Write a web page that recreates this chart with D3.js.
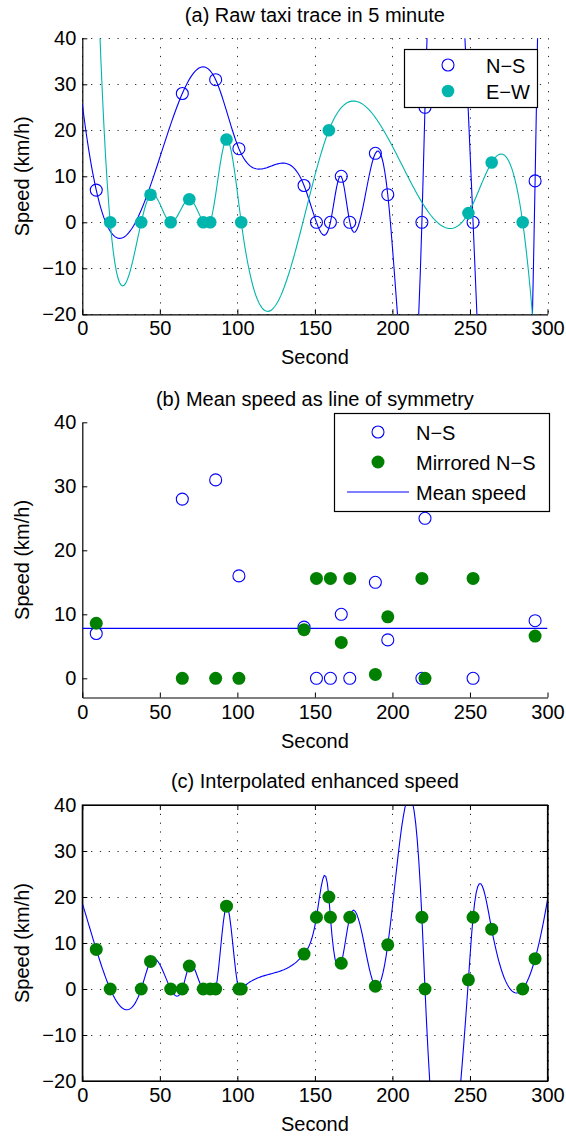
<!DOCTYPE html>
<html><head><meta charset="utf-8">
<script src="https://cdn.jsdelivr.net/npm/d3@7"></script>
<style>
body{margin:0;background:#fff;}
svg{display:block;font-family:"Liberation Sans",Arial,Helvetica,sans-serif;}
</style></head><body>
<svg id="chart" width="566" height="1138"></svg>
<script>
// ---------- data ----------
const xTicks = [0, 50, 100, 150, 200, 250, 300];
const yTicksAC = [-20, -10, 0, 10, 20, 30, 40];
const yTicksB = [0, 10, 20, 30, 40];

const nsSeconds = [9, 64.5, 86, 101, 143, 151, 160, 167, 172.5, 189, 197, 219, 221, 252, 292];
const nsSpeed   = [7, 28, 31, 16, 8, 0, 0, 10, 0, 15, 6, 0, 25, 0, 9];

const ewSeconds = [18, 38, 44, 57, 69, 78, 82.5, 93, 102.5, 159, 249, 264, 284];
const ewSpeed   = [0, 0, 6, 0, 5, 0, 0, 18, 0, 20, 2, 13, 0];

const meanSpeed = 7.8;
const mirroredSpeed = [8.6, 0, 0, 0, 7.6, 15.6, 15.6, 5.6, 15.6, 0.6, 9.6, 15.6, 0, 15.6, 6.6];

const enhSeconds = [9, 18, 38, 44, 57, 64.5, 69, 78, 82.5, 86, 93, 101, 102.5, 143, 151, 159, 160, 167, 172.5, 189, 197, 219, 221, 249, 252, 264, 284, 292];
const enhSpeed   = [8.6, 0, 0, 6, 0, 0, 5, 0, 0, 0, 18, 0, 0, 7.6, 15.6, 20, 15.6, 5.6, 15.6, 0.6, 9.6, 15.6, 0, 2, 15.6, 13, 0, 6.6];

const titles = ["(a) Raw taxi trace in 5 minute", "(b) Mean speed as line of symmetry", "(c) Interpolated enhanced speed"];
const xLabel = "Second";
const yLabel = "Speed (km/h)";

// ---------- style ----------
const BLUE = "#0000ff", TEAL = "#00b5ad", GREEN = "#008000";
const FS = 20;
const svg = d3.select("#chart");
const L = 82.3, R = 547.5;
const x = d3.scaleLinear().domain([0, 300]).range([L, R]);

// not-a-knot cubic spline (as MATLAB's spline) used as a d3 curve, evaluated over the full x range
function notAKnot(xs, ys) {
  const n = xs.length, h = [];
  for (let i = 0; i < n - 1; i++) h.push(xs[i + 1] - xs[i]);
  const A = Array.from({length: n}, () => new Array(n).fill(0)), b = new Array(n).fill(0);
  A[0][0] = h[1]; A[0][1] = -(h[0] + h[1]); A[0][2] = h[0];
  for (let i = 1; i < n - 1; i++) {
    A[i][i - 1] = h[i - 1]; A[i][i] = 2 * (h[i - 1] + h[i]); A[i][i + 1] = h[i];
    b[i] = 6 * ((ys[i + 1] - ys[i]) / h[i] - (ys[i] - ys[i - 1]) / h[i - 1]);
  }
  A[n - 1][n - 3] = h[n - 2]; A[n - 1][n - 2] = -(h[n - 3] + h[n - 2]); A[n - 1][n - 1] = h[n - 3];
  for (let c = 0; c < n; c++) {
    let p = c;
    for (let r = c + 1; r < n; r++) if (Math.abs(A[r][c]) > Math.abs(A[p][c])) p = r;
    [A[c], A[p]] = [A[p], A[c]]; [b[c], b[p]] = [b[p], b[c]];
    for (let r = c + 1; r < n; r++) {
      const f = A[r][c] / A[c][c];
      if (!f) continue;
      for (let k = c; k < n; k++) A[r][k] -= f * A[c][k];
      b[r] -= f * b[c];
    }
  }
  const M = new Array(n).fill(0);
  for (let r = n - 1; r >= 0; r--) {
    let s = b[r];
    for (let k = r + 1; k < n; k++) s -= A[r][k] * M[k];
    M[r] = s / A[r][r];
  }
  return function (t) {
    let i = 0;
    if (t >= xs[n - 1]) i = n - 2;
    else if (t > xs[0]) { while (i < n - 2 && t > xs[i + 1]) i++; }
    const hi = h[i], a = xs[i + 1] - t, c = t - xs[i];
    return M[i] * a * a * a / (6 * hi) + M[i + 1] * c * c * c / (6 * hi)
      + (ys[i] / hi - M[i] * hi / 6) * a + (ys[i + 1] / hi - M[i + 1] * hi / 6) * c;
  };
}
function splineCurve(x0, x1, steps) {
  return function (context) {
    let px, py;
    return {
      areaStart() {}, areaEnd() {},
      lineStart() { px = []; py = []; },
      point(a, b) { px.push(+a); py.push(+b); },
      lineEnd() {
        const f = notAKnot(px, py);
        for (let k = 0; k <= steps; k++) {
          const t = x0 + (x1 - x0) * k / steps;
          const v = Math.max(-4000, Math.min(4000, f(t)));
          if (k === 0) context.moveTo(t, v); else context.lineTo(t, v);
        }
      }
    };
  };
}

function panel(id, top, bottom, yDomain, yTicks, opts) {
  const y = d3.scaleLinear().domain(yDomain).range([bottom, top]);
  const g = svg.append("g");
  const clipId = "clip" + id;
  svg.append("defs").append("clipPath").attr("id", clipId)
    .append("rect").attr("x", L).attr("y", top).attr("width", R - L).attr("height", bottom - top);

  if (opts.grid) {
    const grid = g.append("g").attr("stroke", "#000").attr("stroke-width", 1)
      .attr("stroke-dasharray", "1.2,7.6").attr("opacity", 0.85);
    grid.selectAll("line.v").data(xTicks).join("line").attr("class", "v")
      .attr("x1", d => Math.round(x(d)) + 0.5).attr("x2", d => Math.round(x(d)) + 0.5)
      .attr("y1", top).attr("y2", bottom);
    grid.selectAll("line.h").data(yTicks).join("line").attr("class", "h")
      .attr("y1", d => Math.round(y(d)) + 0.5).attr("y2", d => Math.round(y(d)) + 0.5)
      .attr("x1", L).attr("x2", R);
  }
  g.append("g").attr("transform", `translate(0,${bottom})`)
    .call(d3.axisBottom(x).tickValues(xTicks).tickSizeInner(-5).tickSizeOuter(0).tickPadding(7).tickFormat(d3.format("d")));
  g.append("g").attr("transform", `translate(${L},0)`)
    .call(d3.axisLeft(y).tickValues(yTicks).tickSizeInner(-5).tickSizeOuter(0).tickPadding(6).tickFormat(d3.format("d")));
  if (opts.box) {
    g.append("g").attr("transform", `translate(0,${top})`)
      .call(d3.axisTop(x).tickValues(xTicks).tickSizeInner(-5).tickSizeOuter(0).tickFormat(""));
    g.append("g").attr("transform", `translate(${R},0)`)
      .call(d3.axisRight(y).tickValues(yTicks).tickSizeInner(-5).tickSizeOuter(0).tickFormat(""));
  }
  g.selectAll(".domain").attr("stroke", "#000").attr("stroke-width", 1.2);
  g.selectAll(".tick line").attr("stroke", "#000");
  g.selectAll(".tick text").attr("font-size", FS).attr("font-family", "Liberation Sans, Arial, sans-serif").attr("fill", "#000");
  svg.append("text").attr("x", (L + R) / 2).attr("y", opts.titleY).attr("text-anchor", "middle")
    .attr("font-size", FS).text(opts.title);
  svg.append("text").attr("x", (L + R) / 2).attr("y", opts.xlabY).attr("text-anchor", "middle")
    .attr("font-size", FS).text(xLabel);
  svg.append("text").attr("transform", `translate(29,${(top + bottom) / 2}) rotate(-90)`)
    .attr("text-anchor", "middle").attr("font-size", FS).text(yLabel);

  const plot = svg.append("g").attr("clip-path", `url(#${clipId})`);
  return {y, plot};
}

function splineLine(y, xs, ys) {
  const pts = xs.map((s, i) => ({s, v: ys[i]}));
  return d3.line().x(d => x(d.s)).y(d => y(d.v)).curve(splineCurve(x(0), x(300), 300))(pts);
}

// ---------- panel (a) ----------
{
  const {y, plot} = panel("a", 38.3, 314.3, [-20, 40], yTicksAC,
    {grid: true, box: false, title: titles[0], titleY: 22, xlabY: 364});
  plot.append("path").attr("d", splineLine(y, nsSeconds, nsSpeed)).attr("fill", "none").attr("stroke", BLUE).attr("stroke-width", 1.1);
  plot.append("path").attr("d", splineLine(y, ewSeconds, ewSpeed)).attr("fill", "none").attr("stroke", TEAL).attr("stroke-width", 1.1);
  const pts = svg.append("g");
  pts.selectAll("circle.ns").data(nsSeconds).join("circle").attr("class", "ns")
    .attr("cx", d => x(d)).attr("cy", (d, i) => y(nsSpeed[i])).attr("r", 6)
    .attr("fill", "none").attr("stroke", BLUE).attr("stroke-width", 1.1);
  pts.selectAll("circle.ew").data(ewSeconds).join("circle").attr("class", "ew")
    .attr("cx", d => x(d)).attr("cy", (d, i) => y(ewSpeed[i])).attr("r", 6.3)
    .attr("fill", TEAL);
  const lg = svg.append("g");
  lg.append("rect").attr("x", 404.5).attr("y", 49.5).attr("width", 133).attr("height", 58)
    .attr("fill", "#fff").attr("stroke", "#000").attr("stroke-width", 1.2);
  lg.append("circle").attr("cx", 448).attr("cy", 65).attr("r", 6).attr("fill", "none").attr("stroke", BLUE).attr("stroke-width", 1.1);
  lg.append("circle").attr("cx", 448).attr("cy", 91).attr("r", 6.3).attr("fill", TEAL);
  lg.append("text").attr("x", 486).attr("y", 72.5).attr("font-size", FS).text("N\u2212S");
  lg.append("text").attr("x", 486).attr("y", 98.5).attr("font-size", FS).text("E\u2212W");
}

// ---------- panel (b) ----------
{
  const {y, plot} = panel("b", 422.3, 697.5, [-3, 40], yTicksB,
    {grid: false, box: false, title: titles[1], titleY: 405.5, xlabY: 748});
  plot.append("line").attr("x1", x(0)).attr("x2", x(300)).attr("y1", y(meanSpeed)).attr("y2", y(meanSpeed))
    .attr("stroke", BLUE).attr("stroke-width", 1.1);
  const pts = svg.append("g");
  pts.selectAll("circle.ns").data(nsSeconds).join("circle").attr("class", "ns")
    .attr("cx", d => x(d)).attr("cy", (d, i) => y(nsSpeed[i])).attr("r", 6)
    .attr("fill", "none").attr("stroke", BLUE).attr("stroke-width", 1.1);
  pts.selectAll("circle.mi").data(nsSeconds).join("circle").attr("class", "mi")
    .attr("cx", d => x(d)).attr("cy", (d, i) => y(mirroredSpeed[i])).attr("r", 6.5)
    .attr("fill", GREEN);
  const lg = svg.append("g");
  lg.append("rect").attr("x", 334.5).attr("y", 413.5).attr("width", 215).attr("height", 98)
    .attr("fill", "#fff").attr("stroke", "#000").attr("stroke-width", 1.2);
  lg.append("circle").attr("cx", 378).attr("cy", 432).attr("r", 6).attr("fill", "none").attr("stroke", BLUE).attr("stroke-width", 1.1);
  lg.append("circle").attr("cx", 378).attr("cy", 462).attr("r", 6.5).attr("fill", GREEN);
  lg.append("line").attr("x1", 347).attr("x2", 409).attr("y1", 492).attr("y2", 492).attr("stroke", BLUE).attr("stroke-width", 1.1);
  lg.append("text").attr("x", 416).attr("y", 439.5).attr("font-size", FS).text("N\u2212S");
  lg.append("text").attr("x", 416).attr("y", 469.5).attr("font-size", FS).text("Mirrored N\u2212S");
  lg.append("text").attr("x", 416).attr("y", 499.5).attr("font-size", FS).text("Mean speed");
}

// ---------- panel (c) ----------
{
  const {y, plot} = panel("c", 805, 1081, [-20, 40], yTicksAC,
    {grid: true, box: true, title: titles[2], titleY: 788, xlabY: 1131});
  svg.append("rect").attr("x", L).attr("y", 805).attr("width", R - L).attr("height", 1081 - 805)
    .attr("fill", "none").attr("stroke", "#000").attr("stroke-width", 1.2);
  plot.append("path").attr("d", splineLine(y, enhSeconds, enhSpeed)).attr("fill", "none").attr("stroke", BLUE).attr("stroke-width", 1.1);
  svg.append("g").selectAll("circle").data(enhSeconds).join("circle")
    .attr("cx", d => x(d)).attr("cy", (d, i) => y(enhSpeed[i])).attr("r", 6.5).attr("fill", GREEN);
}
</script></body></html>
